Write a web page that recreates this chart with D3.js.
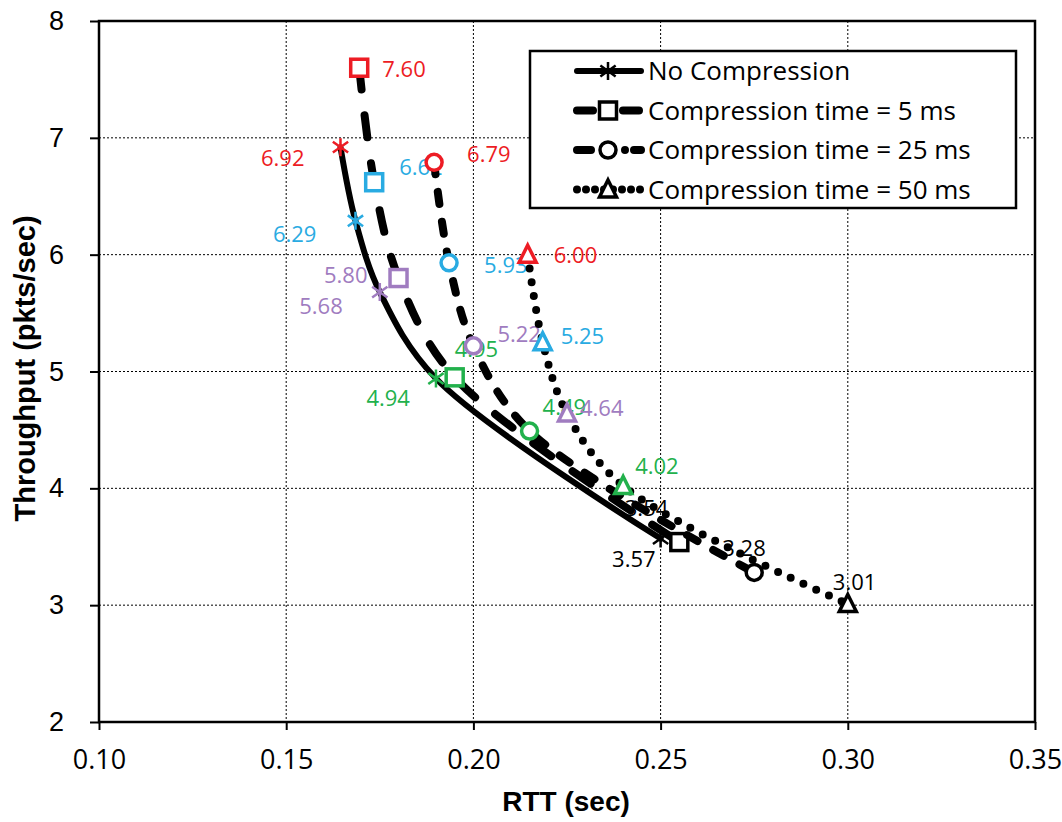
<!DOCTYPE html>
<html>
<head>
<meta charset="utf-8">
<script src="https://cdn.jsdelivr.net/npm/d3@7"></script>
<style>
body { margin:0; background:#fff; }
</style>
</head>
<body>
<svg id="chart" width="1062" height="822"></svg>
<script>
// data
const seriesNames = ["No Compression", "Compression time = 5 ms", "Compression time = 25 ms", "Compression time = 50 ms"];
const rttNone = [0.1645, 0.1685, 0.175, 0.190, 0.250];
const tpNone = [6.92, 6.29, 5.68, 4.94, 3.57];
const rtt5 = [0.1695, 0.1735, 0.180, 0.195, 0.255];
const tp5 = [7.60, 6.62, 5.80, 4.95, 3.54];
const rtt25 = [0.1895, 0.1935, 0.200, 0.215, 0.275];
const tp25 = [6.79, 5.93, 5.22, 4.49, 3.28];
const rtt50 = [0.2145, 0.2185, 0.225, 0.240, 0.300];
const tp50 = [6.00, 5.25, 4.64, 4.02, 3.01];
const xTicks = [0.10, 0.15, 0.20, 0.25, 0.30, 0.35];
const yTicks = [2, 3, 4, 5, 6, 7, 8];
const pointColors = ["#ed1c24", "#29abe2", "#a07cc0", "#22b14c", "#000000"];

const ARIAL = "Arial, 'Liberation Sans', sans-serif";
const CAL = "'Open Sans', 'DejaVu Sans', sans-serif";

const margin = {top:21, right:27, bottom:100, left:99},
width = 1062 - margin.left - margin.right,
height = 822 - margin.top - margin.bottom;

const svg = d3.select("#chart");
const g = svg.append("g").attr("transform", `translate(${margin.left},${margin.top})`);

const x = d3.scaleLinear().domain([0.10, 0.35]).range([0, width]);
const y = d3.scaleLinear().domain([2, 8]).range([height, 0]);

// grid
g.append("g").selectAll("line").data(xTicks.slice(1, -1)).join("line")
    .attr("x1", d => x(d)).attr("x2", d => x(d)).attr("y1", 0).attr("y2", height)
    .attr("stroke", "#000").attr("stroke-width", 1).attr("stroke-dasharray", "2,2");
g.append("g").selectAll("line").data(yTicks.slice(1, -1)).join("line")
    .attr("x1", 0).attr("x2", width).attr("y1", d => y(d)).attr("y2", d => y(d))
    .attr("stroke", "#000").attr("stroke-width", 1).attr("stroke-dasharray", "2,2");

// axes
const xAxis = g.append("g").attr("transform", `translate(0,${height})`)
    .call(d3.axisBottom(x).tickValues(xTicks).tickFormat(d3.format(".2f")).tickSizeInner(8).tickSizeOuter(0).tickPadding(20));
const yAxis = g.append("g")
    .call(d3.axisLeft(y).tickValues(yTicks).tickFormat(d3.format("d")).tickSizeInner(9).tickSizeOuter(0).tickPadding(26));
[xAxis, yAxis].forEach(a => {
    a.select(".domain").remove();
    a.selectAll("line").attr("stroke", "#000").attr("stroke-width", 2);
    a.selectAll("text").attr("fill", "#000");
});
xAxis.selectAll("text").attr("font-size", 27).attr("font-family", CAL);
yAxis.selectAll("text").attr("font-size", 27).attr("font-family", ARIAL);

// frame
g.append("rect").attr("x", 0).attr("y", 0).attr("width", width).attr("height", height)
    .attr("fill", "none").attr("stroke", "#000").attr("stroke-width", 2.5);

// titles
svg.append("text").attr("x", margin.left + width / 2 - 1).attr("y", 811).attr("text-anchor", "middle")
    .attr("font-family", ARIAL).attr("font-size", 28).attr("font-weight", "bold").text("RTT (sec)");
svg.append("text").attr("transform", `translate(35,${margin.top + height / 2 - 3}) rotate(-90)`).attr("text-anchor", "middle")
    .attr("font-family", ARIAL).attr("font-size", 29).attr("font-weight", "bold").text("Throughput (pkts/sec)");

const series = [
    {name: seriesNames[0], xs: rttNone, ys: tpNone, shape: "star", dash: null, legDash: null, w: 6},
    {name: seriesNames[1], xs: rtt5, ys: tp5, shape: "square", dash: "22,26", legDash: "16,30", w: 8},
    {name: seriesNames[2], xs: rtt25, ys: tp25, shape: "circle", dash: "12,18", legDash: "14,34,0,9", w: 8},
    {name: seriesNames[3], xs: rtt50, ys: tp50, shape: "triangle", dash: "0,14", legDash: "0,9", w: 8}
];

// label offsets [dx, dy, anchor] per series, per point (dy to text centre)
const labelPos = [
    [[-36, 11, "end"], [-39, 13, "end"], [-37, 14, "end"], [-26, 20, "end"], [-5, 21, "end"]],
    [[23, 1, "start"], [25, -15, "start"], [-31, -3, "end"], [0, -28, "start"], [-11, -34, "end"]],
    [[33, -8, "start"], [35, 2, "start"], [24, -12, "start"], [13, -24, "start"], [-32, -24, "start"]],
    [[26, 0, "start"], [18, -6, "start"], [13, -5, "start"], [12, -20, "start"], [-15, -22, "start"]]
];

const line = d3.line().curve(d3.curveCatmullRom.alpha(0.5)).x(d => x(d[0])).y(d => y(d[1]));

function drawMarker(sel, shape, color) {
    if (shape === "star") {
        const s = 9;
        sel.append("path").attr("d", `M0,${-s}L0,${s}M${-s * 0.85},${-s * 0.6}L${s * 0.85},${s * 0.6}M${-s * 0.85},${s * 0.6}L${s * 0.85},${-s * 0.6}`)
            .attr("stroke", color).attr("stroke-width", 2.5).attr("fill", "none");
    } else if (shape === "square") {
        sel.append("rect").attr("x", -8.5).attr("y", -8.5).attr("width", 17).attr("height", 17)
            .attr("fill", "#fff").attr("stroke", color).attr("stroke-width", 3.5);
    } else if (shape === "circle") {
        sel.append("circle").attr("r", 8).attr("fill", "#fff").attr("stroke", color).attr("stroke-width", 3.5);
    } else {
        sel.append("path").attr("d", "M0,-9.5L8.5,7.5L-8.5,7.5Z").attr("fill", "#fff").attr("stroke", color)
            .attr("stroke-width", 3.5).attr("stroke-linejoin", "miter");
    }
}

// each series: line, markers, labels
series.forEach((s, si) => {
    const pts = s.xs.map((v, i) => [v, s.ys[i]]);
    const sg = g.append("g");
    sg.append("path").datum(pts).attr("d", line).attr("fill", "none").attr("stroke", "#000")
        .attr("stroke-width", s.w).attr("stroke-linecap", "round")
        .attr("stroke-dasharray", s.dash);
    s.xs.forEach((v, i) => {
        const m = sg.append("g").attr("transform", `translate(${x(v)},${y(s.ys[i])})`);
        drawMarker(m, s.shape, pointColors[i]);
    });
    s.xs.forEach((v, i) => {
        const p = labelPos[si][i];
        sg.append("text").attr("x", x(v) + p[0]).attr("y", y(s.ys[i]) + p[1]).attr("text-anchor", p[2])
            .attr("dy", "0.36em").attr("font-size", 22).attr("fill", pointColors[i])
            .attr("font-family", CAL)
            .text(s.ys[i].toFixed(2));
    });
});

// legend
const lg = svg.append("g").attr("transform", "translate(530,51)");
lg.append("rect").attr("width", 486).attr("height", 157).attr("fill", "#fff").attr("stroke", "#000").attr("stroke-width", 2.5);
series.forEach((s, i) => {
    const row = lg.append("g").attr("transform", `translate(0,${20 + i * 39.5})`);
    row.append("line").attr("x1", 47).attr("x2", 111).attr("y1", 0).attr("y2", 0)
        .attr("stroke", "#000").attr("stroke-width", s.w).attr("stroke-linecap", "round")
        .attr("stroke-dasharray", s.legDash);
    const mk = row.append("g").attr("transform", "translate(78,0)");
    drawMarker(mk, s.shape, "#000");
    row.append("text").attr("x", 118).attr("y", 0).attr("dy", "0.36em").attr("font-size", 26)
        .attr("font-family", CAL).text(s.name);
});
</script>
</body>
</html>
